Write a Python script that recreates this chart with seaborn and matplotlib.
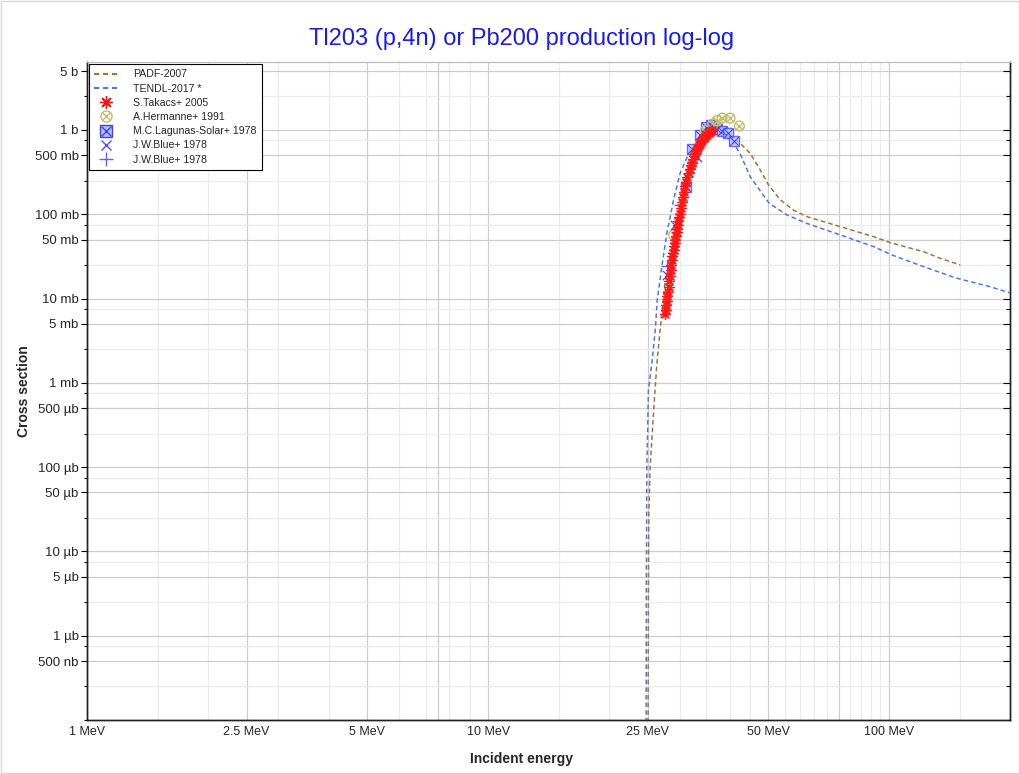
import numpy as np
import pandas as pd
import seaborn as sns
import matplotlib.pyplot as plt
from matplotlib.lines import Line2D
from matplotlib.legend_handler import HandlerTuple

# ===============================
# Data (energy in MeV, cross section in barn)
# ===============================

padf_e = [25.03, 25.05, 25.1, 25.16, 25.35, 25.84, 26.35, 27.1, 27.6, 28.2, 28.7, 29.3,
          30.1, 31.0, 31.9, 33.1, 34.4, 36.0, 38.0, 40.0, 42.5, 45.0, 47.7, 50.0, 53.5,
          57.7, 62.3, 75.5, 91.4, 100.6, 110.7, 121.8, 134.0, 150.3]
padf_xs = [5e-8, 1.4e-7, 4.6e-6, 2.9e-5, 1.0e-4, 4.4e-4, 1.72e-3, 6.7e-3, 0.0153, 0.022, 0.033, 0.058,
           0.118, 0.22, 0.37, 0.6, 0.8, 0.93, 0.95, 0.85, 0.695, 0.529, 0.335, 0.223, 0.148,
           0.112, 0.0937, 0.0713, 0.0542, 0.046, 0.0406, 0.036, 0.030, 0.025]

tendl_e = [24.75, 24.77, 24.8, 24.87, 25.1, 25.6, 26.1, 26.4, 27.1, 27.9, 29.0, 30.1,
           31.9, 34.0, 36.0, 38.0, 40.0, 40.9, 42.5, 45.0, 45.9, 50.2, 55.6, 62.3, 75.5,
           91.4, 101.5, 121.8, 147.5, 178.6, 199.6]
tendl_xs = [5e-8, 1.4e-7, 4.6e-6, 1.0e-4, 8.2e-4, 1.72e-3, 4.2e-3, 9.6e-3, 0.0239, 0.0595, 0.148, 0.306,
            0.579, 0.78, 0.9, 0.88, 0.78, 0.70, 0.52, 0.28, 0.244, 0.135, 0.098, 0.078, 0.0568,
            0.0413, 0.0329, 0.0239, 0.0174, 0.0138, 0.0117]

takacs_e = [27.6, 27.7, 27.8, 27.9, 28.0, 28.1, 28.2, 28.3, 28.4, 28.5, 28.6, 28.7, 28.8,
            28.9, 29.0, 29.1, 29.2, 29.3, 29.4, 29.5, 29.6, 29.7, 29.8, 29.9, 30.0,
            30.2, 30.4, 30.6, 30.8, 31.0, 31.2, 31.4, 31.6, 31.8, 32.0, 32.2, 32.4,
            32.6, 32.8, 33.0, 33.2, 33.4, 33.6, 33.8, 34.0, 34.2, 34.4, 34.6, 34.8,
            35.0, 35.2, 35.4, 35.6, 35.8, 36.0, 36.2]
takacs_xs = [0.0065, 0.0074, 0.0083, 0.0094, 0.0107, 0.0121, 0.0138, 0.016, 0.0186, 0.0216, 0.0251, 0.0285, 0.0316,
             0.0347, 0.038, 0.0417, 0.0457, 0.050, 0.055, 0.061, 0.0676, 0.075, 0.083, 0.092, 0.102,
             0.12, 0.138, 0.162, 0.186, 0.214, 0.24, 0.275, 0.309, 0.347, 0.38, 0.41, 0.447,
             0.49, 0.525, 0.562, 0.59, 0.63, 0.66, 0.69, 0.724, 0.76, 0.794, 0.81, 0.83,
             0.86, 0.88, 0.91, 0.93, 0.955, 0.98, 1.0]

hermanne_e = [29.0, 34.8, 36.3, 37.2, 38.3, 40.1, 42.3]
hermanne_xs = [0.0568, 0.98, 1.18, 1.29, 1.38, 1.38, 1.115]

lagunas_e = [31.2, 32.2, 33.65, 34.9, 35.9, 37.1, 38.3, 39.6, 41.1]
lagunas_xs = [0.209, 0.59, 0.872, 1.07, 1.15, 1.02, 0.96, 0.91, 0.74]

blue_x_e = [27.9, 29.3, 33.1]
blue_x_xs = [0.019, 0.0747, 0.48]

blue_p_e = [28.0, 30.1]
blue_p_xs = [0.0244, 0.129]

y_major = [5, 1, 0.5, 0.1, 0.05, 0.01, 0.005, 1e-3, 5e-4, 1e-4, 5e-5, 1e-5, 5e-6, 1e-6, 5e-7]
y_minor = [2.5, 0.75, 0.25, 0.075, 0.025, 7.5e-3, 2.5e-3, 7.5e-4, 2.5e-4, 7.5e-5, 2.5e-5,
           7.5e-6, 2.5e-6, 7.5e-7, 2.5e-7, 1e-7]
x_labeled = [1, 2.5, 5, 10, 25, 50, 100]
x_major = [1, 2.5, 5, 7.5, 10, 25, 50, 75, 100]
x_minor = [1.5, 2, 3, 4, 6, 7, 8, 9, 15, 20, 30, 35, 40, 45, 55, 60, 65, 70, 80, 85, 90, 95, 150, 200]


def fmt_barn(v):
    if v >= 1:
        return f"{v:g} b"
    if v >= 1e-3:
        return f"{v * 1e3:g} mb"
    if v >= 1e-6:
        return f"{v * 1e6:g} µb"
    return f"{v * 1e9:g} nb"


sns.set_style("white")
plt.rcParams['font.family'] = ['Liberation Sans', 'DejaVu Sans']

fig = plt.figure(figsize=(10.2, 7.74), dpi=100)
ax = fig.add_axes([87 / 1020, 1 - 720 / 774, (1010 - 87) / 1020, (720 - 62) / 774])

brown = '#a8703c'
tblue = '#4a78e6'
olive = '#c4bc6a'
pblue = '#3c46f0'

# evaluations
sns.lineplot(x=padf_e, y=padf_xs, ax=ax, color=brown, lw=1.1, linestyle=(0, (3, 2)),
             estimator=None, sort=False, zorder=3)
sns.lineplot(x=tendl_e, y=tendl_xs, ax=ax, color=tblue, lw=1.1, linestyle=(0, (3, 2)),
             estimator=None, sort=False, zorder=3)

# experimental points
sns.scatterplot(x=lagunas_e, y=lagunas_xs, ax=ax, marker='s', s=55, color='#c4caff',
                edgecolor=pblue, linewidth=1.0, alpha=0.75, zorder=4)
sns.scatterplot(x=lagunas_e, y=lagunas_xs, ax=ax, marker='x', s=40, color=pblue,
                linewidth=0.8, zorder=4)
sns.scatterplot(x=hermanne_e, y=hermanne_xs, ax=ax, marker='o', s=50, facecolors='none',
                edgecolors=olive, linewidth=1.0, zorder=5)
sns.scatterplot(x=hermanne_e, y=hermanne_xs, ax=ax, marker='x', s=28, color=olive,
                linewidth=1.0, zorder=5)
sns.scatterplot(x=blue_x_e, y=blue_x_xs, ax=ax, marker='x', s=45, color='#5050ff',
                linewidth=1.0, zorder=5)
sns.scatterplot(x=blue_p_e, y=blue_p_xs, ax=ax, marker='+', s=70, color='#6060ff',
                linewidth=1.0, zorder=5)
sns.scatterplot(x=takacs_e, y=takacs_xs, ax=ax, marker=(8, 2, 0), s=50, color='#ff1818',
                linewidth=0.9, zorder=6)

ax.set_xscale('log')
ax.set_yscale('log')
ax.set_xlim(1, 200)
ax.set_ylim(1e-7, 6.4)

ax.set_xticks(x_major)
ax.set_xticklabels([f"{v:g} MeV" if v in x_labeled else "" for v in x_major])
ax.set_xticks(x_minor, minor=True)
ax.set_xticklabels([], minor=True)
ax.set_yticks(y_major)
ax.set_yticklabels([fmt_barn(v) for v in y_major])
ax.set_yticks(y_minor, minor=True)
ax.set_yticklabels([], minor=True)

ax.grid(which='major', color='#cdcdcd', lw=0.9, zorder=0)
ax.grid(which='minor', color='#ececec', lw=0.9, zorder=0)
ax.set_axisbelow(True)

ax.tick_params(axis='x', which='both', direction='in', labelsize=9, pad=4,
               color='black', length=6, width=0.8)
ax.tick_params(axis='x', which='minor', length=4)
ax.tick_params(axis='y', which='both', direction='out', labelsize=9.5, length=4,
               color='black', width=0.8, pad=2)
ax.tick_params(axis='y', which='minor', length=2)

# inward ticks on the right edge
ax_r = ax.twinx()
ax_r.set_yscale('log')
ax_r.set_ylim(ax.get_ylim())
ax_r.set_yticks(y_major)
ax_r.set_yticks(y_minor, minor=True)
ax_r.set_yticklabels([])
ax_r.set_yticklabels([], minor=True)
ax_r.tick_params(axis='y', which='both', direction='in', length=5, width=0.8, color='black')
ax_r.tick_params(axis='y', which='minor', length=3)
ax_r.grid(False)

for a in (ax, ax_r):
    for side in ['left', 'bottom', 'right']:
        a.spines[side].set_color('#222222')
        a.spines[side].set_linewidth(1.0)
    a.spines['top'].set_color('#bbbbbb')

ax.set_xlabel("Incident energy", fontsize=10, fontweight='bold')
ax.xaxis.set_label_coords(0.471, -0.048)
ax.set_ylabel("Cross section", fontsize=10, fontweight='bold')
ax.yaxis.set_label_coords(-0.0605, 0.5)
fig.text(0.511, 0.949, "Tl203 (p,4n) or Pb200 production log-log", color='#1a1aee',
         fontsize=17, ha='center', va='center')

handles = [
    Line2D([], [], color=brown, lw=1.5, linestyle=(0, (2.5, 1.8))),
    Line2D([], [], color=tblue, lw=1.5, linestyle=(0, (2.5, 1.8))),
    Line2D([], [], color='#ff1010', marker=(8, 2, 0), markersize=9, lw=0, markeredgewidth=1.0),
    (Line2D([], [], color=olive, marker='o', markersize=8, lw=0, markerfacecolor='none'),
     Line2D([], [], color=olive, marker='x', markersize=5.5, lw=0)),
    (Line2D([], [], color=pblue, marker='s', markersize=9, lw=0, markerfacecolor='#b8c0ff'),
     Line2D([], [], color=pblue, marker='x', markersize=7, lw=0)),
    Line2D([], [], color='#5050ff', marker='x', markersize=7, lw=0),
    Line2D([], [], color='#6060ff', marker='+', markersize=10, lw=0),
]
labels = ["PADF-2007", "TENDL-2017 *", "S.Takacs+ 2005", "A.Hermanne+ 1991",
          "M.C.Lagunas-Solar+ 1978", "J.W.Blue+ 1978", "J.W.Blue+ 1978"]
leg = ax_r.legend(handles, labels, loc='upper left', fontsize=7.6, frameon=True, fancybox=False,
                  edgecolor='black', framealpha=1, borderaxespad=0.2, handlelength=2.2,
                  handletextpad=1.5, labelspacing=0.4, borderpad=0.5,
                  handler_map={tuple: HandlerTuple(ndivide=1)})
leg.get_frame().set_linewidth(0.8)

fig.patches.append(plt.Rectangle((0.001, 0.001), 0.998, 0.998, transform=fig.transFigure,
                                 fill=False, edgecolor='#d8d8d8', lw=1))

fig.savefig("out.png", dpi=100)
